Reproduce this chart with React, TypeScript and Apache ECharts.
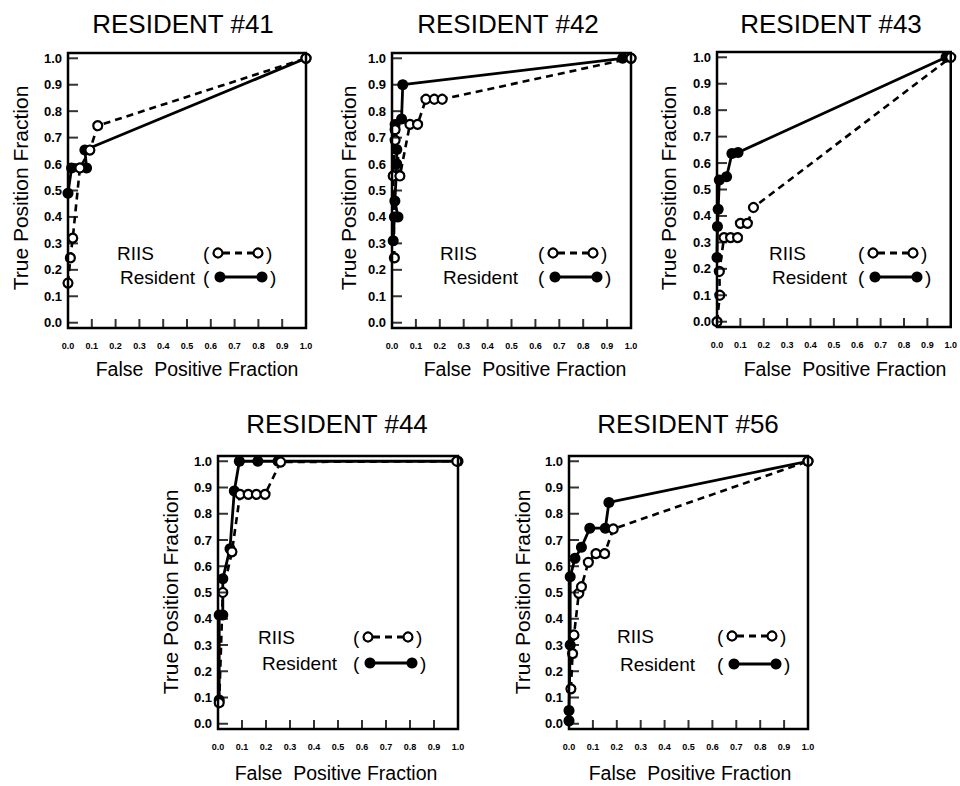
import React, { useEffect, useRef } from "react";
import * as echarts from "echarts";

// ---------- Data (FPF, TPF) ----------
const panelTitles = ["RESIDENT #41", "RESIDENT #42", "RESIDENT #43", "RESIDENT #44", "RESIDENT #56"];

const riis41 = [[0, 0.15], [0.01, 0.245], [0.02, 0.32], [0.05, 0.585], [0.092, 0.653], [0.125, 0.745], [1, 1]];
const resident41 = [[0, 0.49], [0.015, 0.585], [0.078, 0.585], [0.071, 0.653], [1, 1]];

const riis42 = [[0.01, 0.245], [0.005, 0.555], [0.013, 0.69], [0.013, 0.73], [0.033, 0.555], [0.075, 0.75], [0.107, 0.75], [0.142, 0.845], [0.177, 0.845], [0.21, 0.845], [1, 1]];
const resident42 = [[0.005, 0.31], [0.01, 0.4], [0.025, 0.4], [0.012, 0.46], [0.02, 0.6], [0.02, 0.655], [0.013, 0.75], [0.04, 0.77], [0.045, 0.9], [0.965, 1], [1, 1]];

const riis43 = [[0, 0], [0.012, 0.1], [0.01, 0.19], [0.03, 0.318], [0.058, 0.318], [0.088, 0.318], [0.1, 0.372], [0.13, 0.372], [0.156, 0.432], [1, 1]];
const resident43 = [[0, 0.243], [0.002, 0.36], [0.005, 0.425], [0.01, 0.536], [0.041, 0.548], [0.064, 0.636], [0.09, 0.64], [0.98, 1]];

const riis44 = [[0.005, 0.08], [0.02, 0.5], [0.058, 0.655], [0.092, 0.874], [0.126, 0.874], [0.16, 0.874], [0.196, 0.874], [0.261, 0.997], [0.995, 1]];
const resident44 = [[0.005, 0.09], [0.005, 0.414], [0.02, 0.414], [0.02, 0.552], [0.05, 0.667], [0.068, 0.887], [0.089, 1], [0.166, 1], [0.25, 1], [1, 1]];

const riis56 = [[0.008, 0.133], [0.015, 0.267], [0.021, 0.338], [0.041, 0.497], [0.052, 0.522], [0.081, 0.615], [0.113, 0.648], [0.149, 0.648], [0.185, 0.742], [1, 1]];
const resident56 = [[0, 0.011], [0, 0.05], [0.005, 0.3], [0.005, 0.56], [0.025, 0.63], [0.052, 0.672], [0.087, 0.745], [0.152, 0.745], [0.167, 0.843], [1, 1]];

const tickValues = [0, 0.1, 0.2, 0.3, 0.4, 0.5, 0.6, 0.7, 0.8, 0.9, 1.0];
const innerXTicks = [0.1, 0.2, 0.3, 0.4, 0.5, 0.6, 0.7, 0.8, 0.9];

const yAxisTitle = "True Position Fraction";
const xAxisTitle = "False  Positive Fraction";
const legendRiis = "RIIS";
const legendResident = "Resident";

// ---------- Layout ----------
const FONT = '"Liberation Sans", Arial, Helvetica, sans-serif';
const Y_MIN = -0.02;
const Y_MAX = 1.02;
const layout = [
  { left: 68, top: 53, right: 306, bottom: 328, title: [183, 24], yt: [20, 188], xt: [197, 369], riis: [117, 253], res: [120, 277], paren: 203 },
  { left: 392, top: 53, right: 631, bottom: 328, title: [508, 24], yt: [348, 188], xt: [525, 369], riis: [440, 253], res: [443, 277], paren: 538 },
  { left: 717, top: 52, right: 953, bottom: 327, title: [831, 24], yt: [668, 188], xt: [845, 369], riis: [769, 253], res: [772, 277], paren: 858 },
  { left: 218, top: 456, right: 458, bottom: 729, title: [337, 424], yt: [170, 592], xt: [336, 773], riis: [258, 637], res: [262, 663], paren: 353 },
  { left: 569, top: 456, right: 808, bottom: 729, title: [688, 424], yt: [522, 592], xt: [690, 773], riis: [617, 636], res: [620, 664], paren: 717 },
];

const panelData = [
  { riis: riis41, resident: resident41 },
  { riis: riis42, resident: resident42 },
  { riis: riis43, resident: resident43 },
  { riis: riis44, resident: resident44 },
  { riis: riis56, resident: resident56 },
];

function txt(text: string, x: number, y: number, size: number, align = "left", rotation = 0, weight = "normal") {
  return {
    type: "text",
    x,
    y,
    rotation,
    silent: true,
    style: {
      text,
      fill: "#000",
      fontSize: size,
      fontFamily: FONT,
      fontWeight: weight,
      textAlign: align,
      textVerticalAlign: "middle",
    },
  };
}

function buildGraphics() {
  const g: any[] = [];
  layout.forEach((l, i) => {
    g.push(txt(panelTitles[i], l.title[0], l.title[1], 26, "center"));
    g.push(txt(yAxisTitle, l.yt[0], l.yt[1], 21, "center", Math.PI / 2));
    g.push(txt(xAxisTitle, l.xt[0], l.xt[1], 19.5, "center"));
    const p = l.paren;
    const ry = l.riis[1];
    g.push(txt(legendRiis, l.riis[0], ry, 19));
    g.push(txt("(", p, ry, 19));
    g.push({
      type: "line",
      silent: true,
      shape: { x1: p + 20, y1: ry, x2: p + 51, y2: ry },
      style: { stroke: "#000", lineWidth: 2.8, lineDash: [7, 5] },
    });
    g.push({ type: "circle", silent: true, shape: { cx: p + 15, cy: ry, r: 4.5 }, style: { fill: "#fff", stroke: "#000", lineWidth: 2.2 } });
    g.push({ type: "circle", silent: true, shape: { cx: p + 55, cy: ry, r: 4.5 }, style: { fill: "#fff", stroke: "#000", lineWidth: 2.2 } });
    g.push(txt(")", p + 63, ry, 19));
    const sy = l.res[1];
    g.push(txt(legendResident, l.res[0], sy, 19));
    g.push(txt("(", p, sy, 19));
    g.push({
      type: "line",
      silent: true,
      shape: { x1: p + 17, y1: sy, x2: p + 59, y2: sy },
      style: { stroke: "#000", lineWidth: 2.8 },
    });
    g.push({ type: "circle", silent: true, shape: { cx: p + 17, cy: sy, r: 5.5 }, style: { fill: "#000" } });
    g.push({ type: "circle", silent: true, shape: { cx: p + 59, cy: sy, r: 5.5 }, style: { fill: "#000" } });
    g.push(txt(")", p + 67, sy, 19));
  });
  return g;
}

const fmt = (v: number) => v.toFixed(1);

// frame of each plot, through the axes' own scales
function frameRenderItem(params: any, api: any) {
  const tl = api.coord([0, Y_MAX]);
  const tr = api.coord([1, Y_MAX]);
  const br = api.coord([1, Y_MIN]);
  const bl = api.coord([0, Y_MIN]);
  return {
    type: "polygon",
    shape: { points: [tl, tr, br, bl] },
    style: { stroke: "#000", lineWidth: 2.5, fill: "none" },
  };
}

export default function App() {
  const ref = useRef<HTMLDivElement>(null);
  useEffect(() => {
    if (!ref.current) return;
    const chart = echarts.init(ref.current, undefined, { renderer: "svg" });
    const option: any = {
      animation: false,
      backgroundColor: "#fff",
      grid: layout.map((l) => ({
        left: l.left,
        top: l.top,
        width: l.right - l.left,
        height: l.bottom - l.top,
        show: false,
        containLabel: false,
      })),
      xAxis: layout.map((_, i) => ({
        type: "value",
        gridIndex: i,
        min: 0,
        max: 1,
        interval: 0.1,
        axisLine: { show: false },
        axisTick: { show: false },
        axisLabel: {
          color: "#000",
          fontSize: 9,
          fontWeight: "bold",
          fontFamily: FONT,
          margin: 13,
          formatter: fmt,
          showMinLabel: true,
          showMaxLabel: true,
          hideOverlap: false,
        },
        splitLine: { show: false },
      })),
      yAxis: layout.map((_, i) => ({
        type: "value",
        gridIndex: i,
        min: Y_MIN,
        max: Y_MAX,
        axisLine: { show: false },
        axisTick: { show: false },
        axisLabel: {
          color: "#000",
          fontSize: 13,
          fontWeight: "bold",
          fontFamily: FONT,
          margin: 6,
          customValues: tickValues,
          formatter: fmt,
        },
        splitLine: { show: false },
      })),
      series: panelData.flatMap((p, i) => [
        {
          type: "custom",
          name: "frame",
          xAxisIndex: i,
          yAxisIndex: i,
          data: [[0, 0]],
          encode: { x: 0, y: 1 },
          renderItem: frameRenderItem,
          clip: false,
          silent: true,
          z: 10,
        },
        {
          type: "scatter",
          name: "yTicks",
          xAxisIndex: i,
          yAxisIndex: i,
          data: tickValues.map((v) => [0, v]),
          symbol: "rect",
          symbolSize: [10, 2],
          symbolOffset: [5, 0],
          itemStyle: { color: "#000" },
          clip: false,
          silent: true,
          emphasis: { disabled: true },
          z: 10,
        },
        {
          type: "scatter",
          name: "xTicks",
          xAxisIndex: i,
          yAxisIndex: i,
          data: innerXTicks.map((v) => [v, Y_MIN]),
          symbol: "rect",
          symbolSize: [2, 9],
          symbolOffset: [0, -4.5],
          itemStyle: { color: "#000" },
          clip: false,
          silent: true,
          emphasis: { disabled: true },
          z: 10,
        },
        {
          type: "line",
          name: "Resident",
          xAxisIndex: i,
          yAxisIndex: i,
          data: p.resident,
          symbol: "circle",
          symbolSize: 11,
          showSymbol: true,
          clip: false,
          silent: true,
          lineStyle: { color: "#000", width: 2.8 },
          itemStyle: { color: "#000", borderWidth: 0 },
          emphasis: { disabled: true },
          z: 3,
        },
        {
          type: "line",
          name: "RIIS",
          xAxisIndex: i,
          yAxisIndex: i,
          data: p.riis,
          symbol: "circle",
          symbolSize: 9,
          showSymbol: true,
          clip: false,
          silent: true,
          lineStyle: { color: "#000", width: 2.6, type: [7, 5] },
          itemStyle: { color: "#fff", borderColor: "#000", borderWidth: 2.2 },
          emphasis: { disabled: true },
          z: 4,
        },
      ]),
      graphic: buildGraphics(),
    };
    chart.setOption(option);
    return () => chart.dispose();
  }, []);
  return (
    <div
      ref={ref}
      style={{ position: "absolute", left: 0, top: 0, width: 960, height: 786, background: "#fff" }}
    />
  );
}
